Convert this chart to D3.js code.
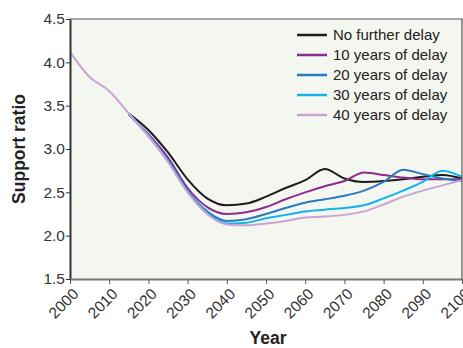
<!doctype html>
<html lang="en">
<head>
<meta charset="utf-8">
<title>Support ratio</title>
<style>
body { margin: 0; background: #fff; font-family: "Liberation Sans", Arial, Helvetica, sans-serif; }
</style>
</head>
<body>
<div id="chart"></div>
<script src="https://d3js.org/d3.v7.min.js"></script>
<script>
var years = [2000, 2005, 2010, 2015, 2020, 2025, 2030, 2035, 2040, 2045, 2050,
             2055, 2060, 2065, 2070, 2075, 2080, 2085, 2090, 2095, 2100];

var noDelay   = [null, null, null, 3.41, 3.22, 2.96, 2.65, 2.43, 2.35, 2.37, 2.45,
                 2.55, 2.64, 2.77, 2.66, 2.62, 2.63, 2.65, 2.68, 2.70, 2.66];
var delay10   = [null, null, null, 3.40, 3.17, 2.90, 2.55, 2.33, 2.25, 2.27, 2.33,
                 2.42, 2.50, 2.57, 2.63, 2.73, 2.70, 2.67, 2.65, 2.65, 2.65];
var delay20   = [null, null, null, 3.40, 3.16, 2.87, 2.52, 2.28, 2.17, 2.19, 2.25,
                 2.32, 2.38, 2.42, 2.46, 2.52, 2.62, 2.76, 2.71, 2.66, 2.63];
var delay30   = [null, null, null, 3.40, 3.15, 2.86, 2.51, 2.26, 2.14, 2.15, 2.20,
                 2.24, 2.28, 2.30, 2.32, 2.35, 2.43, 2.52, 2.62, 2.75, 2.68];
var delay40   = [4.12, 3.83, 3.67, 3.41, 3.15, 2.85, 2.50, 2.25, 2.13, 2.12, 2.14,
                 2.17, 2.21, 2.22, 2.24, 2.28, 2.36, 2.45, 2.52, 2.58, 2.64];

var seriesNames = ["No further delay", "10 years of delay", "20 years of delay",
                   "30 years of delay", "40 years of delay"];
var seriesColors = ["#1c1c1c", "#8e2b8e", "#2a7ac0", "#14b1ec", "#c9a3d4"];
var seriesValues = [noDelay, delay10, delay20, delay30, delay40];

var yTicks = [1.5, 2.0, 2.5, 3.0, 3.5, 4.0, 4.5];
var xTicks = d3.range(2000, 2101, 10);

var width = 463, height = 348;
var margin = {top: 19, right: 1, bottom: 69, left: 70};

var svg = d3.select("#chart").append("svg")
    .attr("width", width)
    .attr("height", height);

var x = d3.scaleLinear().domain([2000, 2100]).range([margin.left, width - margin.right]);
var y = d3.scaleLinear().domain([1.5, 4.5]).range([height - margin.bottom, margin.top]);

// plot background
svg.append("rect")
    .attr("x", x(2000)).attr("y", y(4.5))
    .attr("width", x(2100) - x(2000)).attr("height", y(1.5) - y(4.5))
    .attr("fill", "#f4f7ef");

var line = d3.line()
    .defined(function(d) { return d[1] != null; })
    .x(function(d) { return x(d[0]); })
    .y(function(d) { return y(d[1]); })
    .curve(d3.curveMonotoneX);

seriesValues.forEach(function(vals, i) {
    svg.append("path")
        .datum(years.map(function(yr, j) { return [yr, vals[j]]; }))
        .attr("fill", "none")
        .attr("stroke", seriesColors[i])
        .attr("stroke-width", 2)
        .attr("d", line);
});

// frame: top and right
svg.append("path")
    .attr("d", "M" + x(2000) + "," + y(4.5) + "H" + x(2100) + "V" + y(1.5))
    .attr("fill", "none")
    .attr("stroke", "#555")
    .attr("stroke-width", 1.2);

var yAxis = svg.append("g")
    .attr("transform", "translate(" + x(2000) + ",0)")
    .call(d3.axisLeft(y).tickValues(yTicks).tickFormat(d3.format(".1f")).tickSize(4).tickSizeOuter(0));
yAxis.select(".domain").attr("stroke", "#333").attr("stroke-width", 2);
yAxis.selectAll(".tick line").attr("stroke", "#333");
yAxis.selectAll(".tick text")
    .attr("fill", "#333")
    .attr("x", -5)
    .style("font-size", "15.5px")
    .style("font-family", "Liberation Sans, Arial, sans-serif");

var xAxis = svg.append("g")
    .attr("transform", "translate(0," + y(1.5) + ")")
    .call(d3.axisBottom(x).tickValues(xTicks).tickFormat(d3.format("d")).tickSize(5).tickSizeOuter(0));
xAxis.select(".domain").attr("stroke", "#777").attr("stroke-width", 2);
xAxis.selectAll(".tick line").attr("stroke", "#555");
xAxis.selectAll(".tick text")
    .attr("fill", "#333")
    .attr("text-anchor", "end")
    .attr("dy", null)
    .attr("y", null)
    .attr("transform", "translate(9,16) rotate(-45)")
    .style("font-size", "15.5px")
    .style("font-family", "Liberation Sans, Arial, sans-serif");

// axis titles
svg.append("text")
    .attr("transform", "translate(25," + ((y(1.5) + y(4.5)) / 2) + ") rotate(-90)")
    .attr("text-anchor", "middle")
    .attr("fill", "#222")
    .style("font-size", "17.5px")
    .style("font-weight", "bold")
    .text("Support ratio");

svg.append("text")
    .attr("x", (x(2000) + x(2100)) / 2 + 2)
    .attr("y", 344)
    .attr("text-anchor", "middle")
    .attr("fill", "#222")
    .style("font-size", "17.5px")
    .style("font-weight", "bold")
    .text("Year");

// legend
var legend = svg.append("g").attr("transform", "translate(297,35)");
seriesNames.forEach(function(name, i) {
    var g = legend.append("g").attr("transform", "translate(0," + (i * 20) + ")");
    g.append("line")
        .attr("x1", 0).attr("x2", 30)
        .attr("stroke", seriesColors[i])
        .attr("stroke-width", 2.5);
    g.append("text")
        .attr("x", 36)
        .attr("dy", "0.35em")
        .attr("fill", "#222")
        .style("font-size", "15px")
        .text(name);
});
</script>
</body>
</html>
